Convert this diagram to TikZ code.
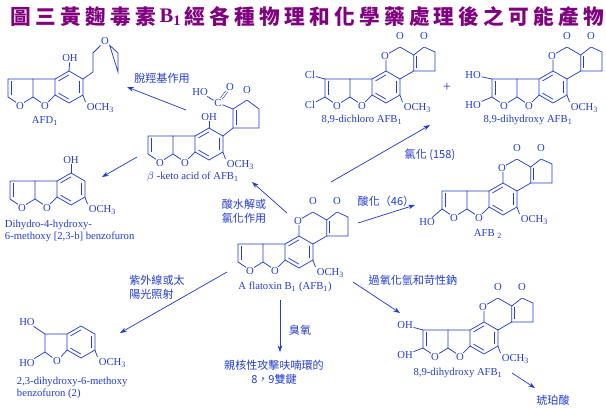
\documentclass[tikz,border=0pt]{standalone}
\usepackage{fontspec}
\setmainfont{Liberation Serif}
\newfontfamily\cjk{Noto Sans CJK TC}
\usetikzlibrary{calc,arrows.meta}
\definecolor{bl}{RGB}{35,60,210}
\definecolor{pur}{RGB}{128,0,128}
\newcommand\dbin[3]{\draw[bond] ($(#1)!.24!(#3)$)--($(#2)!.24!(#3)$);}
\tikzset{
  bond/.style={draw=bl, line width=0.55pt},
  dbond/.style={draw=bl, line width=0.45pt, double=white, double distance=1.1pt},
  atom/.style={font=\fontsize{8}{9}\selectfont, text=bl, fill=white, inner sep=0.4pt},
  lbl/.style={font=\fontsize{8}{9}\selectfont, text=bl, inner sep=0.5pt},
  clbl/.style={font=\cjk\fontsize{8.3}{10.5}\selectfont, text=bl, inner sep=0.5pt, align=left},
  arr/.style={draw=bl, line width=0.55pt, -{Stealth[length=5pt,width=3.5pt]}},
  pics/benz/.style={code={
    \coordinate (-C) at (0,0);
    \coordinate (-B1) at (0,-16); \coordinate (-B2) at (13.9,-8);
    \coordinate (-B3) at (13.9,8); \coordinate (-B4) at (0,16);
    \coordinate (-B5) at (-13.9,8); \coordinate (-B6) at (-13.9,-8);
    \draw[bond] (-B1)--(-B2)--(-B3)--(-B4)--(-B5)--(-B6)--cycle;
    \dbin{-B2}{-B3}{-C} \dbin{-B4}{-B5}{-C} \dbin{-B6}{-B1}{-C}
    \node[atom, anchor=west] (-och) at (17,21) {OCH\textsubscript{3}};
    \draw[bond] (-B3)--(16.5,15);
  }},
  pics/fur/.style={code={
    \coordinate (-O1) at (-24,18); \coordinate (-C7) at (-36,10);
    \coordinate (-C8) at (-36,-8); \coordinate (-O2) at (-49,18);
    \coordinate (-C9) at (-61,10); \coordinate (-C10) at (-61,-8);
    \coordinate (-R2) at (-49,2);
    \draw[bond] (-B5)--(-O1)--(-C7)--(-C8)--(-B6);
    \draw[bond] (-C7)--(-O2)--(-C9)--(-C10)--(-C8);
    \dbin{-C9}{-C10}{-R2}
    \node[atom] at (-24,19) {O}; \node[atom] at (-49,19) {O};
  }},
  pics/coum/.style={code={
    \coordinate (-O3) at (0,-32); \coordinate (-P2) at (13.9,-40);
    \coordinate (-P3) at (27.7,-32); \coordinate (-P4) at (27.7,-16);
    \coordinate (-SC) at (38,-27);
    \coordinate (-Q1) at (38,-40); \coordinate (-Q2) at (49,-35);
    \coordinate (-Q3) at (49,-16);
    \draw[bond] (-B1)--(-O3)--(-P2)--(-P3)--(-P4)--(-B2);
    \draw[bond] (-P3)--(-Q1)--(-Q2)--(-Q3)--(-P4);
    \dbin{-P3}{-P4}{-SC}
    \draw[dbond] (-P2)--(13.9,-48); \draw[dbond] (-Q1)--(38,-48);
    \node[atom] at (13.9,-51) {O}; \node[atom] at (38,-51) {O};
    \node[atom] at (-1,-31) {O};
  }},
}
\begin{document}
\begin{tikzpicture}[x=0.75pt,y=-0.75pt]
\useasboundingbox (0,0) rectangle (606,408);
\fill[white] (0,0) rectangle (606,408);
% title
\foreach \c [count=\i from 0] in {圖,三,黃,麴,毒,素,X,經,各,種,物,理,和,化,學,藥,處,理,後,之,可,能,產,物}{
  \ifnum\i=6\else
  \pgfmathsetmacro\xx{21+\i*24.9}
  \node[text=pur, font=\cjk\bfseries\fontsize{15.5}{17}\selectfont, inner sep=0] at (\xx,17) {\c};
  \fi}
\node[text=pur, font=\bfseries\fontsize{15.5}{17}\selectfont, inner sep=0] (tb) at (170.4,17) {B\textsubscript{1}};

% central AFB1
\pic (a) at (299,252) {benz};
\pic (a) at (299,252) {fur};
\pic (a) at (299,252) {coum};
\node[lbl] (alab) at (285,287) {A flatoxin B\textsubscript{1} (AFB\textsubscript{1})};

% 8,9-dichloro
\pic (d) at (386,87) {benz};
\pic (d) at (386,87) {fur};
\pic (d) at (386,87) {coum};
\node[atom] (dcl1) at (310,75) {Cl};
\node[atom] (dcl2) at (310,105) {Cl};
\draw[bond] (d-C10)--(dcl1); \draw[bond] (d-C9)--(dcl2);
\node[lbl] (dlab) at (362,120) {8,9-dichloro AFB\textsubscript{1}};
\node[lbl, font=\fontsize{11}{11}\selectfont] (plus) at (447,87) {+};

% 8,9-dihydroxy top
\pic (h) at (553,87) {benz};
\pic (h) at (553,87) {fur};
\pic (h) at (553,87) {coum};
\node[atom] (hho1) at (473,75) {HO};
\node[atom] (hho2) at (473,105) {HO};
\draw[bond] (h-C10)--(hho1); \draw[bond] (h-C9)--(hho2);
\node[lbl] (hlab) at (528,120) {8,9-dihydroxy AFB\textsubscript{1}};

% AFB2a
\pic (k) at (503,199) {benz};
\pic (k) at (503,199) {fur};
\pic (k) at (503,199) {coum};
\node[atom] (kho) at (427,222) {HO};
\draw[bond] (k-C9)--(kho);
\node[lbl] (klab) at (488,234) {AFB \textsubscript{2}};

% 8,9-dihydroxy bottom right
\pic (m) at (484,338) {benz};
\pic (m) at (484,338) {fur};
\pic (m) at (484,338) {coum};
\node[atom] (moh1) at (405,325) {OH};
\node[atom] (moh2) at (405,355) {OH};
\draw[bond] (m-C10)--(moh1); \draw[bond] (m-C9)--(moh2);
\node[lbl] (mlab) at (458,373) {8,9-dihydroxy AFB\textsubscript{1}};

% AFD1
\pic (f) at (69,87) {benz};
\pic (f) at (69,87) {fur};
\node[atom] (foh) at (70,58) {OH};
\draw[bond] (f-B1)--(foh);
\coordinate (fr1) at (93,72); \coordinate (fr2) at (93,53);
\coordinate (fr4) at (118,53); \coordinate (fr5) at (118,72);
\node[atom] (fro) at (105,41) {O};
\draw[bond] (fr1)--(fr2)--(fro)--(fr4)--(fr5)--cycle;
\draw[bond] (f-B2)--(fr1);
\node[lbl] (flab) at (45,121) {AFD\textsubscript{1}};

% beta-keto acid
\pic (b) at (209,144) {benz};
\pic (b) at (209,144) {fur};
\node[atom] (boh) at (209,117) {OH};
\draw[bond] (b-B1)--(boh);
\coordinate (bc1) at (233,128); \coordinate (bc2) at (233,109);
\coordinate (bc3) at (247,100); \coordinate (bc4) at (259,109);
\coordinate (bc5) at (259,128); \coordinate (bcc) at (246,115);
\draw[bond] (b-B2)--(bc1)--(bc2)--(bc3)--(bc4)--(bc5)--(bc1);
\dbin{bc1}{bc2}{bcc}
\draw[dbond] (bc3)--(247,93);
\node[atom] (bco) at (247,90) {O};
\node[atom] (bC) at (218,103) {C};
\node[atom] (bCo) at (230,87) {O};
\node[atom] (bho) at (200,92) {HO};
\draw[bond] (bc2)--(bC); \draw[bond] (bC)--(bho);
\draw[dbond] (bC)--(bCo);
\node[lbl] (blab) at (193,177) {$\beta$ -keto acid of AFB\textsubscript{1}};

% dihydro-4-hydroxy-6-methoxy benzofuran
\pic (e) at (71,189) {benz};
\pic (e) at (71,189) {fur};
\node[atom] (eoh) at (71,160) {OH};
\draw[bond] (e-B1)--(eoh);
\node[lbl, anchor=west, align=left] (elab) at (4,231) {Dihydro-4-hydroxy-\\6-methoxy [2,3-b] benzofuron};

% 2,3-dihydroxy-6-methoxy benzofuran
\pic (g) at (81,342) {benz};
\coordinate (gc7) at (45,352); \coordinate (gc8) at (45,334);
\node[atom] (gO) at (57,361) {O};
\draw[bond] (g-B5)--(gO)--(gc7)--(gc8)--(g-B6);
\node[atom] (gho1) at (27,322) {HO};
\node[atom] (gho2) at (27,363) {HO};
\draw[bond] (gc8)--(gho1); \draw[bond] (gc7)--(gho2);
\node[lbl, anchor=west, align=left] (glab) at (16,388) {2,3-dihydroxy-6-methoxy\\benzofuron (2)};

% arrows
\coordinate (s1) at (186,110); \coordinate (t1) at (127,87);
\draw[arr] (s1)--(t1);
\node[clbl] (l1) at (162,78) {脫羥基作用};
\coordinate (s2) at (137,157); \coordinate (t2) at (102,177);
\draw[arr] (s2)--(t2);
\coordinate (s3) at (287,213); \coordinate (t3) at (252,182);
\draw[arr] (s3)--(t3);
\node[clbl] (l3) at (244,211) {酸水解或\\氯化作用};
\coordinate (s4) at (331,182); \coordinate (t4) at (430,125);
\draw[arr] (s4)--(t4);
\node[clbl] (l4) at (430,155) {氯化 (158)};
\coordinate (s5) at (358,223); \coordinate (t5) at (415,205);
\draw[arr] (s5)--(t5);
\node[clbl] (l5) at (386,201) {酸化（46）};
\coordinate (s6) at (227,272); \coordinate (t6) at (120,333);
\draw[arr] (s6)--(t6);
\node[clbl] (l6) at (157,287) {紫外線或太\\陽光照射};
\coordinate (s7) at (280,300); \coordinate (t7) at (280,352);
\draw[arr] (s7)--(t7);
\node[clbl] (l7) at (300,330) {臭氧};
\node[clbl, align=center] (l7b) at (274,372) {親核性攻擊呋喃環的\\8，9雙鍵};
\coordinate (s8) at (353,282); \coordinate (t8) at (400,313);
\draw[arr] (s8)--(t8);
\node[clbl] (l8) at (413,280) {過氧化氫和苛性鈉};
\coordinate (s9) at (512,373); \coordinate (t9) at (535,388);
\draw[arr] (s9)--(t9);
\node[clbl] (l9) at (553,400) {琥珀酸};
\end{tikzpicture}
\end{document}
